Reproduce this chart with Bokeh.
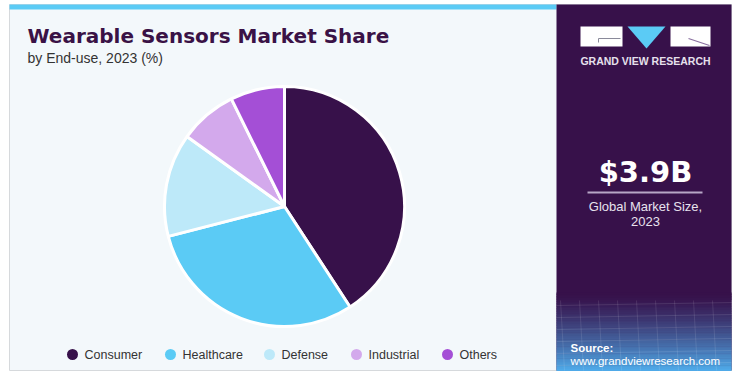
import math
from bokeh.plotting import figure
from bokeh.models import Range1d, ColumnDataSource
from bokeh.core.properties import value
from bokeh.embed import file_html
from bokeh.resources import INLINE

# ---- data ----
categories = ["Consumer", "Healthcare", "Defense", "Industrial", "Others"]
shares = [40.8, 30.2, 13.9, 7.8, 7.3]
colors = ["#37114a", "#5bcbf5", "#bde9f9", "#d3a9ec", "#a44fd6"]
title = "Wearable Sensors Market Share"
subtitle = "by End-use, 2023 (%)"
market_size = "$3.9B"
market_label = ["Global Market Size,", "2023"]

W, H = 732, 372
p = figure(width=W, height=H, output_backend="svg", toolbar_location=None,
           x_range=Range1d(0, W), y_range=Range1d(H, 0),
           min_border=0, border_fill_color="white", background_fill_color="white")
p.axis.visible = False
p.grid.visible = False
p.outline_line_color = None

FONT = "Liberation Sans"
HEAVY = "DejaVu Sans"

CARD_B = 370
# ---- card background ----
p.quad(left=9, right=731, top=4, bottom=CARD_B, fill_color="#f3f8fb",
       line_color="#d6d9dc", line_width=1)
p.quad(left=9, right=556, top=4, bottom=9, fill_color="#5bcbf5", line_color=None)

# right dark panel
p.quad(left=556, right=731, top=4, bottom=CARD_B, fill_color="#37114a", line_color=None)
# gradient at bottom of dark panel
c0 = (0x37, 0x11, 0x4a)
c1 = (0x4f, 0xa9, 0xe8)
n = 45
g_top, g_bot = 292, CARD_B
for i in range(n):
    t = (i / (n - 1)) ** 1.3
    col = "#%02x%02x%02x" % tuple(int(c0[k] + (c1[k] - c0[k]) * t) for k in range(3))
    y0 = g_top + (g_bot - g_top) * i / n
    y1 = g_top + (g_bot - g_top) * (i + 1) / n
    p.quad(left=556, right=731, top=y0, bottom=y1 + 0.5, fill_color=col, line_color=None)

# faint grid texture
for k in range(10):
    xk = 560 + k * 19
    p.line([xk, xk + 4], [300, CARD_B], line_color="white", line_alpha=0.1, line_width=1)
for k in range(6):
    yk = 305 + k * 12
    p.line([556, 731], [yk, yk - 3], line_color="white", line_alpha=0.1, line_width=1)

# ---- logo ----
p.quad(left=580, right=622, top=26, bottom=46, fill_color="white", line_color=None)
p.line([598, 620], [38, 38], line_color="#8a8a9a", line_width=1)
p.line([598, 598], [38, 42], line_color="#8a8a9a", line_width=1)
p.patch([627, 665, 646], [26, 26, 48], fill_color="#5bcbf5", line_color=None)
p.quad(left=670, right=710, top=26, bottom=46, fill_color="white", line_color=None)
p.line([688, 709], [38, 45], line_color="#8a6fa0", line_width=1.2)
p.text(x=[645], y=[60], text=["GRAND VIEW RESEARCH"], text_font=value(FONT),
       text_font_style="bold", text_font_size="10.5px", text_color="#e6e0ec",
       text_align="center", text_baseline="middle")

# ---- market size ----
p.text(x=[645], y=[171], text=[market_size], text_font=value(HEAVY),
       text_font_style="bold", text_font_size="29px", text_color="white",
       text_align="center", text_baseline="middle")
p.line([587, 702], [192, 192], line_color="#b7a6c6", line_width=2)
p.text(x=[645, 645], y=[206, 221], text=market_label, text_font=value(FONT),
       text_font_size="13px", text_color="#e8e2ee",
       text_align="center", text_baseline="middle")

# source
p.text(x=[570], y=[347], text=["Source:"], text_font=value(FONT),
       text_font_style="bold", text_font_size="11.5px", text_color="white",
       text_align="left", text_baseline="middle")
p.text(x=[570], y=[360], text=["www.grandviewresearch.com"], text_font=value(FONT),
       text_font_size="11.5px", text_color="white",
       text_align="left", text_baseline="middle")

# ---- titles ----
p.text(x=[27], y=[35], text=[title], text_font=value(HEAVY),
       text_font_style="bold", text_font_size="20px", text_color="#3a1246",
       text_align="left", text_baseline="middle")
p.text(x=[27], y=[57], text=[subtitle], text_font=value(FONT),
       text_font_size="14px", text_color="#333333",
       text_align="left", text_baseline="middle")

# ---- pie ----
total = sum(shares)
starts, ends = [], []
acc = 0.0
for s in shares:
    a0 = math.pi / 2 - 2 * math.pi * acc / total
    acc += s
    a1 = math.pi / 2 - 2 * math.pi * acc / total
    starts.append(a0)
    ends.append(a1)
src = ColumnDataSource(dict(cat=categories, val=shares, color=colors,
                            start=starts, end=ends))
p.wedge(x=284, y=206, radius=120, radius_units="screen",
        start_angle="start", end_angle="end", direction="clock",
        fill_color="color", line_color="white", line_width=3, source=src)

# ---- legend ----
leg_x = [72, 170, 269, 356, 447]
p.scatter(x=leg_x, y=[354] * 5, size=11, marker="circle",
          fill_color=colors, line_color=None)
p.text(x=[x + 12 for x in leg_x], y=[354] * 5, text=categories,
       text_font=value(FONT), text_font_size="12.5px", text_color="#333333",
       text_align="left", text_baseline="middle")

open("out.html", "w").write(file_html(p, INLINE))
